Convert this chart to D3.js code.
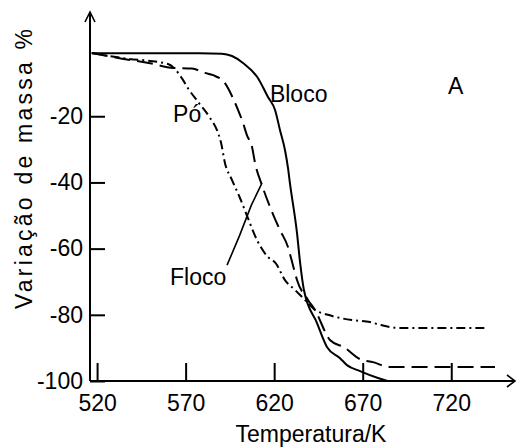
<!DOCTYPE html>
<html><head><meta charset="utf-8">
<script src="https://cdn.jsdelivr.net/npm/d3@7"></script>
<style>
body{margin:0;background:#fff;}
text{font-family:"Liberation Sans",Arial,sans-serif;fill:#000;}
</style></head>
<body>
<svg id="chart" width="517" height="448"></svg>
<script>
// ---- data ----
const xTicks = [520, 570, 620, 670, 720];
const yTicks = [-20, -40, -60, -80, -100];

const blocoT = [517, 578, 590.5, 596.2, 602.4, 610.9, 616.5, 620.5, 623.3, 626.1, 627.8, 628.9, 632.9, 634.6, 636.8, 644.2, 649.8, 657.2, 661.1, 668.5, 678.6, 684];
const blocoV = [-1, -1, -1.1, -1.8, -3.9, -8.5, -14.2, -18.1, -24.2, -30.2, -35.6, -40.2, -55.3, -64, -72.5, -82.5, -89.7, -93.1, -95.2, -97.0, -99.1, -100];

const flocoT = [517, 534.1, 550, 562.9, 573.6, 580.9, 585.5, 592.2, 596.7, 599.6, 602.4, 604.6, 607.5, 609.2, 613.1, 618.8, 623.3, 627.8, 630.6, 632.9, 639.1, 643.0, 651.5, 660.0, 668.5, 675.8, 685.4, 744.7];
const flocoV = [-0.9, -2.6, -4.0, -5.4, -5.6, -6.9, -7.6, -10, -14.5, -18.1, -22, -25.7, -29.3, -34.1, -40.8, -48.9, -54.4, -59.5, -65, -69.5, -75.5, -78.5, -87.6, -90, -93.4, -94.3, -95.8, -95.8];

const poT = [517, 534.1, 560.0, 568.5, 571.3, 577.5, 583.8, 587.7, 590, 592.2, 596.2, 600.7, 605.2, 610.3, 615.9, 621.0, 626.1, 631.8, 637.4, 643.0, 650.4, 663.9, 674.1, 680.3, 691.0, 740.2];
const poV = [-0.9, -2.4, -4.2, -9.0, -11.5, -16.0, -20.5, -24.2, -28, -34.1, -39.3, -44.7, -50.8, -57.4, -62.2, -64.5, -69.5, -72.5, -75.5, -78.5, -80, -81.6, -82.2, -83.1, -84, -84];

const labelText = ["Bloco", "Pó", "Floco", "A"];
const labelT = [617.6, 562.9, 561.2, 718.1];
const labelV = [-15.7, -21.8, -71, -13.3];

const leaderT = [593.4, 600.5, 607, 613.1];
const leaderV = [-65, -56, -47, -40.2];

// ---- chart ----
const svg = d3.select("#chart");
svg.append("rect").attr("width", 517).attr("height", 448).attr("fill", "#fff");

const x = d3.scaleLinear().domain([516, 756]).range([90, 515]);
const y = d3.scaleLinear().domain([-100, 11.5]).range([381, 12]);

// axes
const xAxis = svg.append("g").attr("transform", "translate(0,381)")
  .call(d3.axisBottom(x).tickValues(xTicks).tickSizeInner(-18).tickSizeOuter(0).tickPadding(14).tickFormat(d => String(d)));
xAxis.select(".domain").remove();
xAxis.selectAll("line").attr("stroke", "#000").attr("stroke-width", 2);
xAxis.selectAll("text").attr("font-size", 23).attr("font-family", "Liberation Sans, Arial, sans-serif").attr("fill", "#000");

const yAxis = svg.append("g").attr("transform", "translate(90,0)")
  .call(d3.axisLeft(y).tickValues(yTicks).tickSizeInner(-15).tickSizeOuter(0).tickPadding(7).tickFormat(d => String(d)));
yAxis.select(".domain").remove();
yAxis.selectAll("line").attr("stroke", "#000").attr("stroke-width", 2);
yAxis.selectAll("text").attr("font-size", 23).attr("font-family", "Liberation Sans, Arial, sans-serif").attr("fill", "#000");

// axis lines with arrows
const [xr0, xr1] = x.range();
const [yr0, yr1] = y.range();
svg.append("line").attr("x1", xr0).attr("x2", xr1).attr("y1", yr0).attr("y2", yr0)
  .attr("stroke", "#000").attr("stroke-width", 2);
svg.append("line").attr("x1", xr0).attr("x2", xr0).attr("y1", yr0).attr("y2", yr1)
  .attr("stroke", "#000").attr("stroke-width", 2);
svg.append("path").attr("d", `M${xr1 - 8},${yr0 - 6} L${xr1},${yr0} L${xr1 - 8},${yr0 + 6}`)
  .attr("fill", "none").attr("stroke", "#000").attr("stroke-width", 1.6);
svg.append("path").attr("d", `M${xr0 - 5},${yr1 + 10} L${xr0},${yr1} L${xr0 + 5},${yr1 + 10}`)
  .attr("fill", "none").attr("stroke", "#000").attr("stroke-width", 1.6);

// curves
const line = d3.line().x(d => x(d[0])).y(d => y(d[1])).curve(d3.curveMonotoneX);
const series = [
  {T: blocoT, V: blocoV, dash: null},
  {T: flocoT, V: flocoV, dash: "16,7"},
  {T: poT, V: poV, dash: "9,4,2,4"}
];
series.forEach(s => {
  const pts = s.T.map((t, i) => [t, s.V[i]]);
  svg.append("path").attr("d", line(pts)).attr("fill", "none")
    .attr("stroke", "#000").attr("stroke-width", 2)
    .attr("stroke-dasharray", s.dash);
});

// leader line for Floco
svg.append("path")
  .attr("d", d3.line().x(d => x(d[0])).y(d => y(d[1]))(leaderT.map((t, i) => [t, leaderV[i]])))
  .attr("fill", "none").attr("stroke", "#000").attr("stroke-width", 1.6);

// labels
labelText.forEach((t, i) => {
  svg.append("text").attr("x", x(labelT[i])).attr("y", y(labelV[i]))
    .attr("font-size", 23).text(t);
});

// axis titles
svg.append("text").attr("x", 311).attr("y", 442).attr("text-anchor", "middle")
  .attr("font-size", 23).text("Temperatura/K");
svg.append("text").attr("transform", "translate(32,169) rotate(-90)")
  .attr("text-anchor", "middle").attr("font-size", 23)
  .attr("textLength", 280).attr("lengthAdjust", "spacing")
  .text("Variação de massa %");
</script>
</body></html>
